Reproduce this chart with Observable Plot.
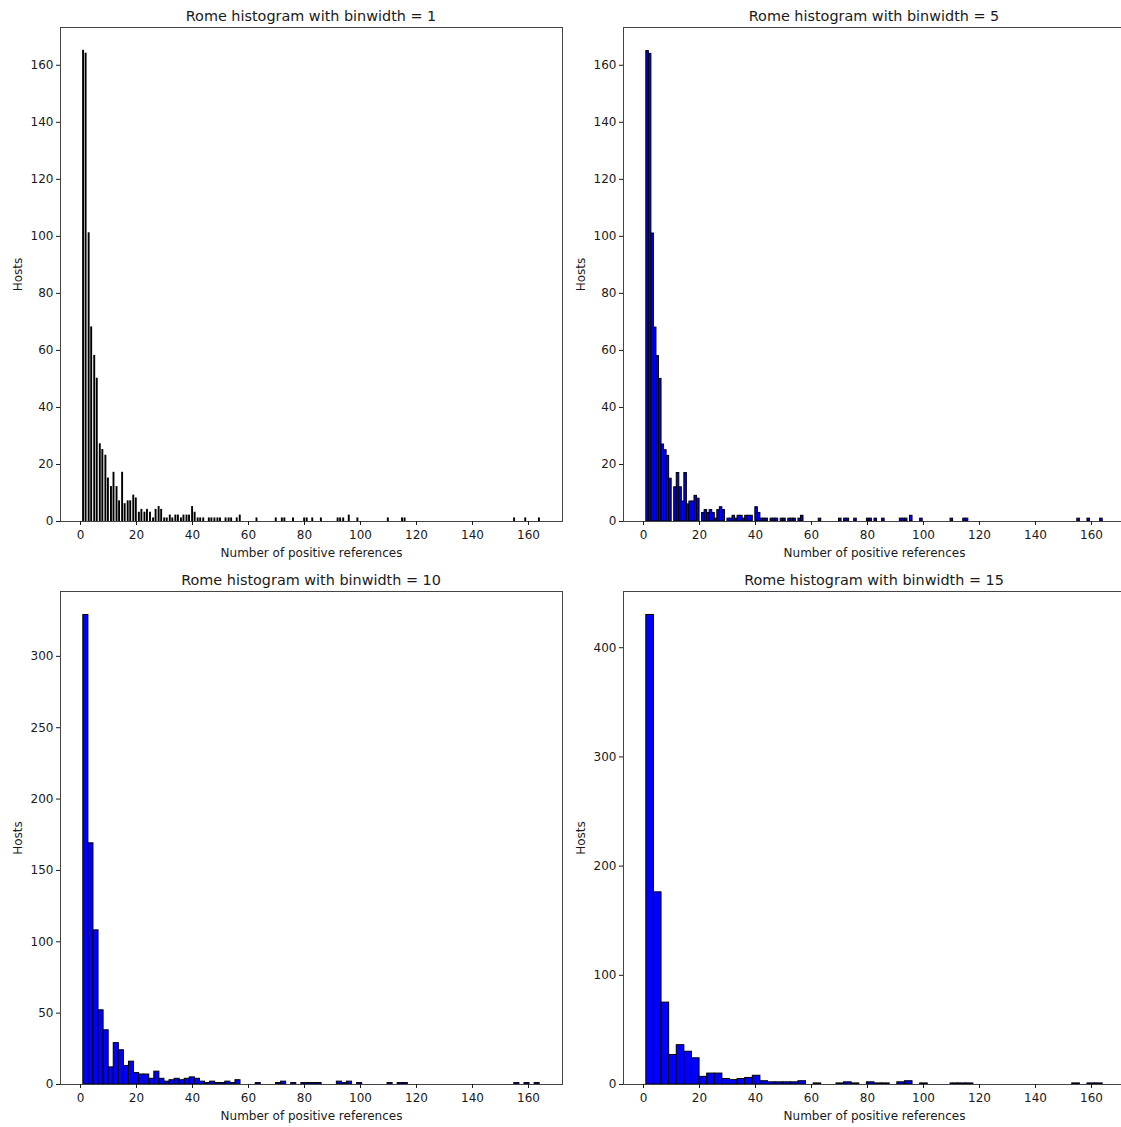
<!DOCTYPE html>
<html>
<head>
<meta charset="utf-8">
<script src="https://cdn.jsdelivr.net/npm/d3@7"></script>
<script src="https://cdn.jsdelivr.net/npm/@observablehq/plot@0.6"></script>
<style>
html, body { margin: 0; padding: 0; background: #fff; overflow: hidden; }
#root { position: relative; width: 1121px; height: 1127px; overflow: hidden; font-family: "DejaVu Sans", sans-serif; }
.title { position: absolute; font-size: 14.4px; color: #1a1a1a; white-space: nowrap; transform: translate(-50%, -50%); line-height: 1; }
.panel { position: absolute; }
</style>
</head>
<body>
<div id="root"></div>
<script>
// Number of positive references (distinct values) and number of hosts with that value
const refValues = [
  1, 2, 3, 4, 5, 6, 7, 8, 9, 10,
  11, 12, 13, 14, 15, 16, 17, 18, 19, 20,
  21, 22, 23, 24, 25, 26, 27, 28, 29, 30,
  31, 32, 33, 34, 35, 36, 37, 38, 39, 40,
  41, 42, 43, 44, 46, 47, 48, 49, 50, 52,
  53, 54, 56, 57, 63, 70, 72, 73, 76, 80,
  81, 83, 86, 92, 93, 94, 96, 99, 110, 115,
  116, 155, 159, 164
];
const hostCounts = [
  165, 164, 101, 68, 58, 50, 27, 25, 23, 15,
  12, 17, 12, 7, 17, 6, 7, 7, 9, 8,
  3, 4, 3, 4, 3, 1, 4, 5, 4, 1,
  1, 2, 1, 2, 2, 1, 2, 2, 2, 5,
  3, 1, 1, 1, 1, 1, 1, 1, 1, 1,
  1, 1, 1, 2, 1, 1, 1, 1, 1, 1,
  1, 1, 1, 1, 1, 1, 2, 1, 1, 1,
  1, 1, 1, 1
];

const titles = [
  "Rome histogram with binwidth = 1",
  "Rome histogram with binwidth = 5",
  "Rome histogram with binwidth = 10",
  "Rome histogram with binwidth = 15"
];
const binCounts = [900, 180, 90, 60];
const fills = ["white", "blue", "blue", "blue"];
const edgeWidths = [1.4, 1, 1, 1];
const xTicks = [0, 20, 40, 60, 80, 100, 120, 140, 160];
const yTicksA = [0, 20, 40, 60, 80, 100, 120, 140, 160];
const yTicksB = [0, 20, 40, 60, 80, 100, 120, 140, 160];
const yTicksC = [0, 50, 100, 150, 200, 250, 300];
const yTicksD = [0, 100, 200, 300, 400];
const yTicks = [yTicksA, yTicksB, yTicksC, yTicksD];
const xLabel = "Number of positive references";
const yLabel = "Hosts";

// frame boxes of the four panels (left, right, top, bottom)
const boxes = [
  {L: 60, R: 562, T: 27, B: 521},
  {L: 623, R: 1125, T: 27, B: 521},
  {L: 60, R: 562, T: 591, B: 1084},
  {L: 623, R: 1125, T: 591, B: 1084}
];

const xMin = d3.min(refValues), xMax = d3.max(refValues);

function histogram(n) {
  const edges = d3.range(n + 1).map(i => xMin + i * (xMax - xMin) / n);
  const counts = new Array(n).fill(0);
  refValues.forEach((v, k) => {
    let i = d3.bisectRight(edges, v) - 1;
    if (i >= n) i = n - 1;
    counts[i] += hostCounts[k];
  });
  return counts.map((c, i) => ({x1: edges[i], x2: edges[i + 1], y: c})).filter(d => d.y > 0);
}

const root = document.getElementById("root");
const pad = 0.05 * (xMax - xMin);

titles.forEach((title, p) => {
  const {L, R, T, B} = boxes[p];
  const bins = histogram(binCounts[p]);
  const maxY = d3.max(bins, d => d.y);
  const mL = 60, mR = 5, mT = 5, mB = 45;
  const chart = Plot.plot({
    width: R - L + mL + mR,
    height: B - T + mT + mB,
    marginLeft: mL, marginRight: mR, marginTop: mT, marginBottom: mB,
    style: {fontFamily: "DejaVu Sans", fontSize: "12px", color: "#1a1a1a", background: "transparent", overflow: "visible"},
    x: {domain: [xMin - pad, xMax + pad]},
    y: {domain: [0, 1.05 * maxY]},
    marks: [
      Plot.rectY(bins, {x1: "x1", x2: "x2", y: "y", fill: fills[p], stroke: "black", strokeWidth: edgeWidths[p], inset: 0}),
      Plot.frame({stroke: "#444", strokeWidth: 1}),
      Plot.axisX({ticks: xTicks, tickSize: 4, tickPadding: 5, label: xLabel, labelAnchor: "center", labelOffset: 35, labelArrow: "none"}),
      Plot.axisY({ticks: yTicks[p], tickSize: 4, tickPadding: 3, label: yLabel, labelAnchor: "center", labelOffset: 47, labelArrow: "none"})
    ]
  });
  chart.classList.add("panel");
  chart.style.left = (L - mL) + "px";
  chart.style.top = (T - mT) + "px";
  root.appendChild(chart);

  const t = document.createElement("div");
  t.className = "title";
  t.textContent = title;
  t.style.left = ((L + R) / 2) + "px";
  t.style.top = (T - 11) + "px";
  root.appendChild(t);
});
</script>
</body>
</html>
